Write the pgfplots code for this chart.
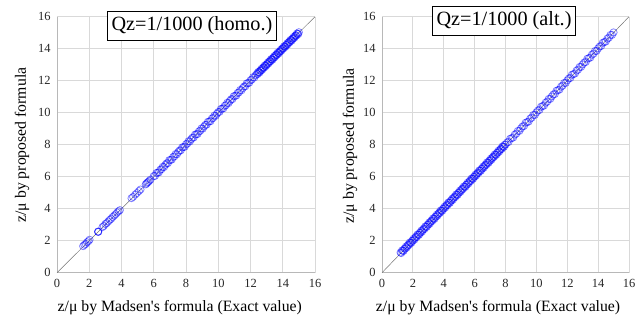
\documentclass[border=0pt]{standalone}
\usepackage{pgfplots}
\pgfplotsset{compat=1.18}
\usepackage{pgfplotstable}
\usepackage{fontspec}
\setmainfont{Liberation Serif}

\pgfplotstableread{
x y
1.62 1.66
1.70 1.74
1.78 1.80
1.86 1.90
1.95 1.97
2.02 2.06
2.55 2.56
2.55 2.57
2.56 2.55
2.82 2.85
2.90 2.92
3.00 3.04
3.08 3.10
3.18 3.20
3.27 3.30
3.36 3.37
3.45 3.48
3.55 3.57
3.64 3.66
3.73 3.76
3.82 3.84
3.90 3.91
4.62 4.66
4.72 4.74
4.85 4.88
4.96 4.98
5.08 5.10
5.18 5.20
5.50 5.52
5.55 5.57
5.60 5.63
5.66 5.67
5.72 5.74
5.80 5.82
6.00 6.04
6.08 6.05
6.16 6.23
6.24 6.25
6.32 6.27
6.40 6.43
6.48 6.47
6.56 6.62
6.64 6.60
6.72 6.74
6.80 6.84
6.88 6.85
6.96 7.03
7.04 7.05
7.12 7.07
7.20 7.23
7.28 7.27
7.36 7.42
7.44 7.40
7.52 7.54
7.60 7.64
7.68 7.65
7.76 7.83
7.84 7.85
7.92 7.87
8.00 8.03
8.08 8.07
8.16 8.22
8.24 8.20
8.32 8.34
8.40 8.44
8.48 8.45
8.56 8.63
8.64 8.65
8.72 8.67
8.80 8.83
8.88 8.87
8.96 9.02
9.04 9.00
9.12 9.14
9.20 9.24
9.28 9.25
9.36 9.43
9.44 9.45
9.52 9.47
9.60 9.63
9.68 9.67
9.76 9.82
9.84 9.80
9.92 9.94
10.00 10.04
10.08 10.05
10.16 10.23
10.24 10.25
10.32 10.27
10.40 10.43
10.48 10.47
10.56 10.62
10.64 10.60
10.72 10.74
10.80 10.84
10.88 10.85
10.96 11.03
11.04 11.05
11.12 11.07
11.20 11.23
11.28 11.27
11.36 11.42
11.44 11.40
11.52 11.54
11.60 11.64
11.68 11.65
11.76 11.83
11.84 11.85
11.92 11.87
12.00 12.03
12.08 12.07
12.16 12.22
12.24 12.20
12.32 12.34
12.40 12.44
12.44 12.41
12.48 12.55
12.52 12.53
12.56 12.51
12.60 12.63
12.64 12.63
12.68 12.74
12.72 12.68
12.76 12.78
12.80 12.84
12.84 12.81
12.88 12.95
12.92 12.93
12.96 12.91
13.00 13.03
13.04 13.03
13.08 13.14
13.12 13.08
13.16 13.18
13.20 13.24
13.24 13.21
13.28 13.35
13.32 13.33
13.36 13.31
13.40 13.43
13.44 13.43
13.48 13.54
13.52 13.48
13.56 13.58
13.60 13.64
13.64 13.61
13.68 13.75
13.72 13.73
13.76 13.71
13.80 13.83
13.84 13.83
13.88 13.94
13.92 13.88
13.96 13.98
14.00 14.04
14.04 14.01
14.08 14.15
14.12 14.13
14.16 14.11
14.20 14.23
14.24 14.23
14.28 14.34
14.32 14.28
14.36 14.38
14.40 14.44
14.44 14.41
14.48 14.55
14.52 14.53
14.56 14.51
14.60 14.63
14.64 14.63
14.68 14.74
14.72 14.68
14.76 14.78
14.80 14.84
14.84 14.81
14.88 14.95
14.92 14.93
14.96 14.91
15.00 15.03
}\homo

\pgfplotstableread{
x y
1.20 1.26
1.25 1.23
1.30 1.39
1.35 1.37
1.40 1.36
1.45 1.50
1.50 1.50
1.55 1.63
1.60 1.57
1.65 1.68
1.70 1.76
1.75 1.73
1.80 1.89
1.85 1.87
1.90 1.86
1.95 2.00
2.00 2.00
2.05 2.13
2.10 2.07
2.15 2.18
2.20 2.26
2.25 2.23
2.30 2.39
2.35 2.37
2.40 2.36
2.45 2.50
2.50 2.50
2.55 2.63
2.60 2.57
2.65 2.68
2.70 2.76
2.75 2.73
2.80 2.89
2.85 2.87
2.90 2.86
2.95 3.00
3.00 3.00
3.05 3.13
3.10 3.07
3.15 3.18
3.20 3.26
3.25 3.23
3.30 3.39
3.35 3.37
3.40 3.36
3.45 3.50
3.50 3.50
3.55 3.63
3.60 3.57
3.65 3.68
3.70 3.76
3.75 3.73
3.80 3.89
3.85 3.87
3.90 3.86
3.95 4.00
4.00 4.00
4.05 4.13
4.10 4.07
4.15 4.18
4.20 4.26
4.25 4.23
4.30 4.39
4.35 4.37
4.40 4.36
4.45 4.50
4.50 4.50
4.55 4.63
4.60 4.57
4.65 4.68
4.70 4.76
4.75 4.73
4.80 4.89
4.85 4.87
4.90 4.86
4.95 5.00
5.00 5.00
5.05 5.13
5.10 5.07
5.15 5.18
5.20 5.26
5.25 5.23
5.30 5.39
5.35 5.37
5.40 5.36
5.45 5.50
5.50 5.50
5.55 5.63
5.60 5.57
5.65 5.68
5.70 5.76
5.75 5.73
5.80 5.89
5.85 5.87
5.90 5.86
5.95 6.00
6.00 6.00
6.05 6.13
6.10 6.07
6.15 6.18
6.20 6.26
6.25 6.23
6.30 6.39
6.35 6.37
6.40 6.36
6.45 6.50
6.50 6.50
6.55 6.63
6.60 6.57
6.65 6.68
6.70 6.76
6.75 6.73
6.80 6.89
6.85 6.87
6.90 6.86
6.95 7.00
7.00 7.00
7.05 7.13
7.10 7.07
7.15 7.18
7.20 7.26
7.25 7.23
7.30 7.39
7.35 7.37
7.40 7.36
7.45 7.50
7.50 7.50
7.55 7.63
7.60 7.57
7.65 7.68
7.70 7.76
7.75 7.73
7.80 7.89
7.85 7.87
7.90 7.86
7.95 8.00
8.00 8.00
8.1 8.14
8.2 8.17
8.3 8.37
8.4 8.41
8.5 8.45
8.6 8.63
8.7 8.69
8.8 8.86
8.9 8.86
9.0 9.02
9.1 9.14
9.2 9.17
9.3 9.37
9.4 9.41
9.5 9.45
9.6 9.63
9.7 9.69
9.8 9.86
9.9 9.86
10.0 10.02
10.1 10.14
10.2 10.17
10.3 10.37
10.4 10.41
10.5 10.45
10.6 10.63
10.7 10.69
10.8 10.86
10.9 10.86
11.0 11.02
11.1 11.14
11.2 11.17
11.3 11.37
11.4 11.41
11.5 11.45
11.6 11.63
11.7 11.69
11.8 11.86
11.9 11.86
12.0 12.02
12.1 12.14
12.2 12.17
12.3 12.37
12.4 12.41
12.5 12.45
12.6 12.63
12.7 12.69
12.8 12.86
12.9 12.86
13.0 13.02
13.1 13.14
13.2 13.17
13.3 13.37
13.4 13.41
13.5 13.45
13.6 13.63
13.7 13.69
13.8 13.86
13.9 13.86
14.0 14.02
14.1 14.14
14.2 14.17
14.3 14.37
14.4 14.41
14.5 14.45
14.6 14.63
14.7 14.69
14.8 14.86
14.9 14.86
15.0 15.02
}\alt

\pgfplotsset{
  panel/.style={
    scale only axis,
    height=256bp,
    xmin=0, xmax=16, ymin=0, ymax=16,
    xtick={0,2,...,16}, ytick={0,2,...,16},
    grid=major,
    grid style={draw=black!15, line width=0.8pt},
    axis line style={draw=black!28, line width=0.9pt},
    axis x line*=bottom, axis y line*=left,
    major tick length=0pt,
    tick label style={font=\fontsize{12.5}{14}\selectfont, text=black!85},
    /pgf/number format/assume math mode=true,
    xticklabel style={yshift=-3bp},
    yticklabel style={xshift=-3bp},
    label style={font=\fontsize{15.8}{17}\selectfont, text=black},
    xlabel={z/μ by Madsen\textquotesingle s formula (Exact value)},
    ylabel={z/μ by proposed formula},
    clip=false,
  },
  pts/.style={only marks, mark=o, mark size=3.6bp,
    mark options={draw=blue, draw opacity=0.5, line width=0.75pt}},
  diag/.style={no marks, draw=black!55, line width=0.5pt},
}

\begin{document}
\begin{tikzpicture}
\path[use as bounding box] (-57bp,-49.3bp) rectangle (587bp,272.7bp);
\begin{axis}[panel, width=258bp, at={(0,0)}, anchor=south west,
  xlabel style={at={(axis description cs:0.476,0)}, anchor=center, yshift=-35bp},
  ylabel style={at={(axis description cs:0,0.499)}, anchor=center, yshift=35bp}]
\addplot[diag] coordinates {(0,0) (16,16)};
\addplot[pts] table[x=x,y=y] {\homo};
\node[draw=black, fill=white, line width=0.7pt, inner xsep=4bp, minimum height=29bp,
  font=\fontsize{20.3}{22}\selectfont] at (rel axis cs:0.523,0.966) {Qz=1/1000 (homo.)};
\end{axis}
\begin{axis}[panel, width=247bp, at={(325bp,0)}, anchor=south west,
  xlabel style={at={(axis description cs:0.47,0)}, anchor=center, yshift=-35bp},
  ylabel style={at={(axis description cs:0,0.495)}, anchor=center, yshift=32bp}]
\addplot[diag] coordinates {(0,0) (16,16)};
\addplot[pts] table[x=x,y=y] {\alt};
\node[draw=black, fill=white, line width=0.7pt, inner xsep=4bp, minimum height=29bp,
  font=\fontsize{20.3}{22}\selectfont] at (rel axis cs:0.494,0.983) {Qz=1/1000 (alt.)};
\end{axis}
\end{tikzpicture}
\end{document}
